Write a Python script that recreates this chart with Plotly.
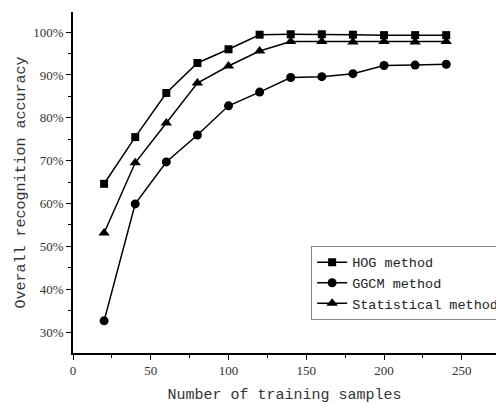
import plotly.graph_objects as go

samples = [20, 40, 60, 80, 100, 120, 140, 160, 180, 200, 220, 240]
hog = [64.6, 75.5, 85.8, 92.8, 96.0, 99.4, 99.5, 99.5, 99.4, 99.3, 99.3, 99.3]
ggcm = [32.6, 59.9, 69.7, 76.0, 82.8, 86.0, 89.4, 89.6, 90.3, 92.2, 92.3, 92.5]
stat = [53.1, 69.5, 78.8, 88.1, 92.1, 95.6, 97.8, 97.8, 97.7, 97.8, 97.7, 97.8]

names = ["HOG method", "GGCM method", "Statistical method"]
symbols = ["square", "circle", "triangle-up"]
sizes = [8, 9, 10]

fig = go.Figure()
for name, ys, sym, sz in zip(names, [hog, ggcm, stat], symbols, sizes):
    fig.add_trace(go.Scatter(
        x=samples, y=ys, name=name, mode="lines+markers",
        line=dict(color="black", width=1.5),
        marker=dict(symbol=sym, size=sz, color="black"),
    ))

axis_common = dict(
    showline=True, linecolor="black", linewidth=1.5,
    ticks="outside", ticklen=5, tickwidth=1.2, tickcolor="black",
    showgrid=False, zeroline=False,
    tickfont=dict(family="Liberation Serif", size=13, color="#333"),
)

fig.update_layout(
    width=496, height=404,
    margin=dict(l=73, r=0, t=12, b=51, autoexpand=False),
    paper_bgcolor="white", plot_bgcolor="white",
    xaxis=dict(
        range=[0, 272], dtick=50, tick0=0,
        minor=dict(dtick=25, ticks="outside", ticklen=3, tickcolor="black", tickwidth=1),
        title=dict(text="Number of training samples", standoff=13,
                   font=dict(family="Liberation Mono", size=15, color="#333")),
        **axis_common,
    ),
    yaxis=dict(
        range=[25.1, 104.7], dtick=10, tick0=0, ticksuffix="%",
        minor=dict(dtick=5, ticks="outside", ticklen=3, tickcolor="black", tickwidth=1),
        title=dict(text="Overall recognition accuracy", standoff=4,
                   font=dict(family="Liberation Mono", size=15, color="#333")),
        **axis_common,
    ),
    legend=dict(
        x=0.563, y=0.314, xanchor="left", yanchor="top",
        bordercolor="#888", borderwidth=1, bgcolor="white",
        font=dict(family="Liberation Mono", size=13.5, color="#222"),
        tracegroupgap=0, itemsizing="trace",
    ),
    showlegend=True,
)

fig.write_html("out.html")
